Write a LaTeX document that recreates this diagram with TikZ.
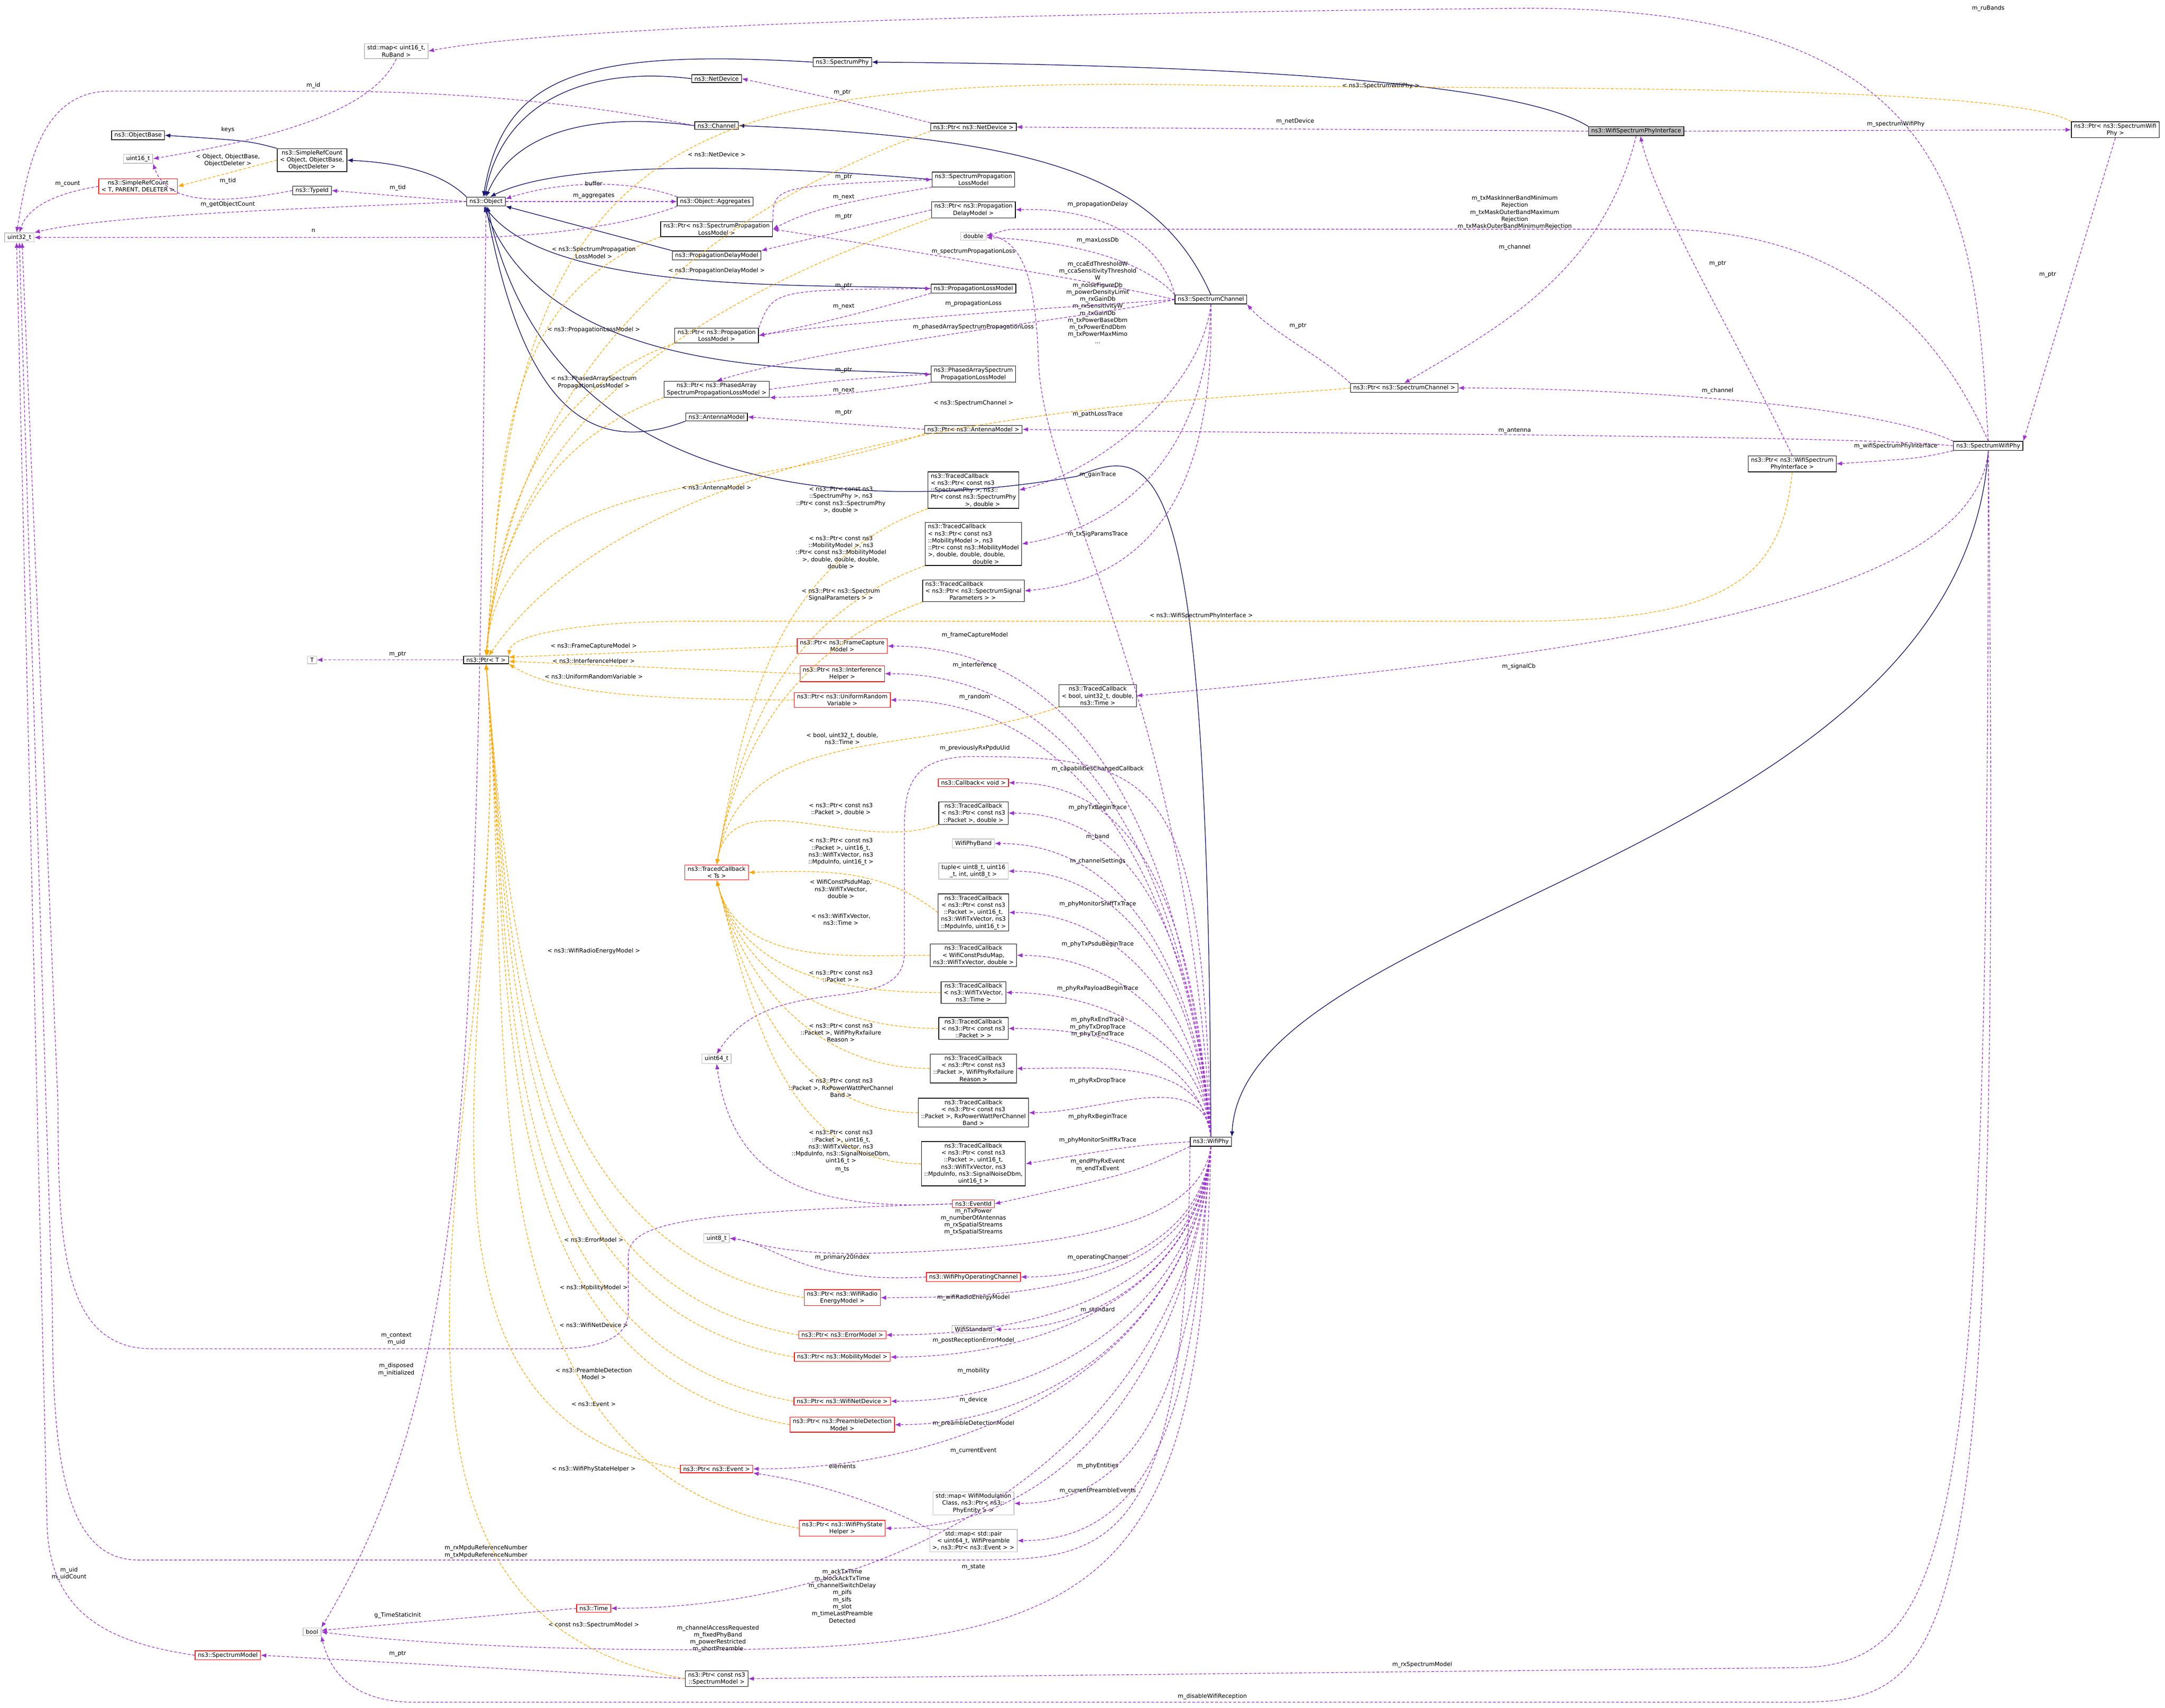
\documentclass[tikz,border=0pt]{standalone}
\usepackage{fontspec}
\setmainfont{DejaVu Sans}
\usetikzlibrary{arrows.meta}
\definecolor{inhc}{HTML}{191970}
\definecolor{usec}{HTML}{9A32CD}
\definecolor{tplc}{HTML}{FFA500}
\definecolor{grayb}{HTML}{BFBFBF}
\newcommand\ff{\fontsize{4.2}{5.1}\selectfont}
\tikzset{
 box/.style={draw=black,fill=white,inner xsep=2pt,inner ysep=1.2pt,align=center,font=\ff,line width=0.45pt},
 rbox/.style={box,draw=red},
 gbox/.style={box,draw=grayb},
 lab/.style={align=center,font=\ff,inner sep=0.5pt},
 inh/.style={draw=inhc,line width=0.5pt,-{Latex[length=4pt,width=3.2pt]}},
 use/.style={draw=usec,line width=0.45pt,dash pattern=on 2pt off 1.3pt,-{Latex[length=4pt,width=3.2pt]}},
 tpl/.style={draw=tplc,line width=0.45pt,dash pattern=on 2pt off 1.3pt,-{Latex[length=4pt,width=3.2pt]}},
}
\begin{document}
\begin{tikzpicture}[x=1pt,y=-1pt]
\useasboundingbox[fill=white] (0,0) rectangle (1568,1237);
% nodes
\node[gbox] (map16) at (287,37) {std::map{<} uint16\_t,\\RuBand >};
\node[box] (ObjectBase) at (100,98) {ns3::ObjectBase};
\node[gbox] (u16) at (100,115) {uint16\_t};
\node[box] (SRC2) at (226,116) {ns3::SimpleRefCount\\{<} Object, ObjectBase,\\ObjectDeleter >};
\node[rbox] (SRCT) at (100,135) {ns3::SimpleRefCount\\{<} T, PARENT, DELETER >};
\node[box] (TypeId) at (226,138) {ns3::TypeId};
\node[gbox] (u32) at (14,172) {uint32\_t};
\node[box] (Object) at (352,146) {ns3::Object};
\node[box] (Aggr) at (518,146) {ns3::Object::Aggregates};
\node[box] (SpPhy) at (610,45) {ns3::SpectrumPhy};
\node[box] (NetDev) at (519,57) {ns3::NetDevice};
\node[box] (Channel) at (519,91) {ns3::Channel};
\node[box] (PNetDev) at (705,92) {ns3::Ptr{<} ns3::NetDevice >};
\node[box] (SPLM) at (705,130) {ns3::SpectrumPropagation\\LossModel};
\node[box] (PSPLM) at (519,166) {ns3::Ptr{<} ns3::SpectrumPropagation\\LossModel >};
\node[box] (PPDM) at (705,152) {ns3::Ptr{<} ns3::Propagation\\DelayModel >};
\node[box] (PDM) at (519,185) {ns3::PropagationDelayModel};
\node[gbox] (dbl) at (705,171) {double};
\node[box] (PLM) at (705,209) {ns3::PropagationLossModel};
\node[box] (PPLM) at (519,243) {ns3::Ptr{<} ns3::Propagation\\LossModel >};
\node[box] (SpCh) at (877,217) {ns3::SpectrumChannel};
\node[box] (PAM) at (705,271) {ns3::PhasedArraySpectrum\\PropagationLossModel};
\node[box] (PPAM) at (519,282) {ns3::Ptr{<} ns3::PhasedArray\\SpectrumPropagationLossModel >};
\node[box] (Ant) at (519,302) {ns3::AntennaModel};
\node[box] (PAnt) at (705,311) {ns3::Ptr{<} ns3::AntennaModel >};
\node[box,fill=grayb] (WSPI) at (1185,95) {ns3::WifiSpectrumPhyInterface};
\node[box] (PSWP) at (1532,94) {ns3::Ptr{<} ns3::SpectrumWifi\\Phy >};
\node[box] (PSpCh) at (1017,281) {ns3::Ptr{<} ns3::SpectrumChannel >};
\node[box] (SWP) at (1440,323) {ns3::SpectrumWifiPhy};
\node[box] (PWSPI) at (1298,336) {ns3::Ptr{<} ns3::WifiSpectrum\\PhyInterface >};
\node[box,align=left] (TC1) at (705,355) {ns3::TracedCallback\\{<} ns3::Ptr{<} const ns3\\::SpectrumPhy >, ns3::\\Ptr{<} const ns3::SpectrumPhy\\\hphantom{xxxxxxxxxx}>, double >};
\node[box,align=left] (TC2) at (705,394) {ns3::TracedCallback\\{<} ns3::Ptr{<} const ns3\\::MobilityModel >, ns3\\::Ptr{<} const ns3::MobilityModel\\ >, double, double, double,\\\hphantom{xxxxxxxxxxxxx}double >};
\node[box,align=left] (TC3) at (705,428) {ns3::TracedCallback\\{<} ns3::Ptr{<} ns3::SpectrumSignal\\\hphantom{xxxxxxx}Parameters > >};
\node[gbox] (T) at (226,478) {T};
\node[box] (PT) at (352,478) {ns3::Ptr{<} T >};
\node[rbox] (PFC) at (610,468) {ns3::Ptr{<} ns3::FrameCapture\\Model >};
\node[rbox] (PIH) at (610,488) {ns3::Ptr{<} ns3::Interference\\Helper >};
\node[rbox] (PURV) at (610,507) {ns3::Ptr{<} ns3::UniformRandom\\Variable >};
\node[box] (TCb) at (795,504) {ns3::TracedCallback\\{<} bool, uint32\_t, double,\\ns3::Time >};
\node[rbox] (CbV) at (705,567) {ns3::Callback{<} void >};
\node[box] (TC4) at (705,589) {ns3::TracedCallback\\{<} ns3::Ptr{<} const ns3\\::Packet >, double >};
\node[gbox] (WPB) at (705,611) {WifiPhyBand};
\node[gbox] (tup) at (705,631) {tuple{<} uint8\_t, uint16\\\_t, int, uint8\_t >};
\node[rbox] (TCTs) at (519,632) {ns3::TracedCallback\\{<} Ts >};
\node[box] (TC5) at (705,661) {ns3::TracedCallback\\{<} ns3::Ptr{<} const ns3\\::Packet >, uint16\_t,\\ns3::WifiTxVector, ns3\\::MpduInfo, uint16\_t >};
\node[box] (TC6) at (705,692) {ns3::TracedCallback\\{<} WifiConstPsduMap,\\ns3::WifiTxVector, double >};
\node[box] (TC7) at (705,719) {ns3::TracedCallback\\{<} ns3::WifiTxVector,\\ns3::Time >};
\node[box] (TC8) at (705,745) {ns3::TracedCallback\\{<} ns3::Ptr{<} const ns3\\::Packet > >};
\node[box] (TC9) at (705,774) {ns3::TracedCallback\\{<} ns3::Ptr{<} const ns3\\::Packet >, WifiPhyRxfailure\\Reason >};
\node[gbox] (u64) at (519,767) {uint64\_t};
\node[box] (TC10) at (705,806) {ns3::TracedCallback\\{<} ns3::Ptr{<} const ns3\\::Packet >, RxPowerWattPerChannel\\Band >};
\node[box] (TC11) at (705,843) {ns3::TracedCallback\\{<} ns3::Ptr{<} const ns3\\::Packet >, uint16\_t,\\ns3::WifiTxVector, ns3\\::MpduInfo, ns3::SignalNoiseDbm,\\uint16\_t >};
\node[box] (WP) at (877,827) {ns3::WifiPhy};
\node[rbox] (EvId) at (705,872) {ns3::EventId};
\node[gbox] (u8) at (519,897) {uint8\_t};
\node[rbox] (WPOC) at (705,925) {ns3::WifiPhyOperatingChannel};
\node[rbox] (PWREM) at (610,940) {ns3::Ptr{<} ns3::WifiRadio\\EnergyModel >};
\node[gbox] (WStd) at (705,963) {WifiStandard};
\node[rbox] (PErr) at (610,967) {ns3::Ptr{<} ns3::ErrorModel >};
\node[rbox] (PMob) at (610,983) {ns3::Ptr{<} ns3::MobilityModel >};
\node[rbox] (PWND) at (610,1015) {ns3::Ptr{<} ns3::WifiNetDevice >};
\node[rbox] (PPre) at (610,1032) {ns3::Ptr{<} ns3::PreambleDetection\\Model >};
\node[rbox] (PEv) at (519,1064) {ns3::Ptr{<} ns3::Event >};
\node[gbox] (mapMod) at (705,1089) {std::map{<} WifiModulation\\Class, ns3::Ptr{<} ns3::\\PhyEntity > >};
\node[rbox] (PWPSH) at (610,1107) {ns3::Ptr{<} ns3::WifiPhyState\\Helper >};
\node[gbox] (mapPair) at (705,1116) {std::map{<} std::pair\\{<} uint64\_t, WifiPreamble\\ >, ns3::Ptr{<} ns3::Event > >};
\node[rbox] (Time) at (430,1165) {ns3::Time};
\node[gbox] (bool) at (226,1182) {bool};
\node[rbox] (SpM) at (165,1199) {ns3::SpectrumModel};
\node[box] (PSpM) at (519,1216) {ns3::Ptr{<} const ns3\\::SpectrumModel >};

% inheritance
\draw[inh] (SRC2.north west) .. controls (180,102) .. (ObjectBase.east);
\draw[inh] (Object.north west) .. controls (320,125) and (290,118) .. (SRC2.east);
\draw[inh] (SpPhy.west) .. controls (420,35) and (365,55) .. ([xshift=-2pt]Object.north);
\draw[inh] (NetDev.west) .. controls (430,48) and (365,70) .. ([xshift=-1pt]Object.north);
\draw[inh] (Channel.west) .. controls (420,80) and (370,100) .. (Object.north);
\draw[inh] (SPLM.west) .. controls (560,120) and (410,115) .. ([xshift=3pt]Object.north);
\draw[inh] (PDM.north west) -- (Object.south east);
\draw[inh] (PLM.west) .. controls (600,205) and (400,215) .. ([xshift=-1pt]Object.south);
\draw[inh] (PAM.west) .. controls (600,265) and (400,280) .. ([xshift=-1.5pt]Object.south);
\draw[inh] (Ant.south west) .. controls (430,330) and (380,300) .. (Object.south);
\draw[inh] (WP.north) .. controls (875,330) and (840,320) .. (780,345) .. controls (640,370) and (400,370) .. ([xshift=1pt]Object.south);
\draw[inh] (WSPI.north west) .. controls (1100,60) and (900,47) .. (SpPhy.east);
\draw[inh] (SpCh.north) .. controls (840,130) and (760,100) .. (Channel.east);
\draw[inh] (SWP.south) .. controls (1420,620) and (900,660) .. (WP.north east);

% use edges
\draw[use] (SWP.north) .. controls (1430,150) and (1420,4) .. (1100,6) .. controls (700,10) and (400,20) .. (map16.east);
\node[lab] at (1440,6) {m\_ruBands};
\draw[use] (map16.south) .. controls (270,80) and (200,100) .. (u16.east);
\node[lab] at (165,94) {keys};
\draw[use] (Channel.west) .. controls (400,70) and (300,66) .. (230,66) -- (80,66) .. controls (30,66) and (20,120) .. ([xshift=-2pt]u32.north);
\node[lab] at (227,62) {m\_id};
\draw[use] (SRCT.west) .. controls (40,140) and (20,150) .. (u32.north);
\node[lab] at (49,133) {m\_count};
\draw[use] (TypeId.west) .. controls (150,150) and (120,145) .. (u16.south east);
\node[lab] at (165,131) {m\_tid};
\draw[use] (Object.west) -- (TypeId.east);
\node[lab] at (288,136) {m\_tid};
\draw[use] (Object.west) .. controls (250,150) and (80,155) .. (u32.north east);
\node[lab] at (165,148) {m\_getObjectCount};
\draw[use] (Object.east) -- (Aggr.west);
\node[lab] at (430,142) {m\_aggregates};
\draw[use] (Aggr.north west) .. controls (450,128) and (400,133) .. ([yshift=2pt]Object.east);
\node[lab] at (430,133) {buffer};
\draw[use] (Aggr.south west) .. controls (450,165) and (380,172) .. (340,172) -- (u32.east);
\node[lab] at (227,167) {n};
\draw[use] (PNetDev.north west) .. controls (620,75) .. (NetDev.east);
\node[lab] at (610,67) {m\_ptr};
\draw[use] (WSPI.west) -- (PNetDev.east);
\node[lab] at (938,88) {m\_netDevice};
\draw[use] (WSPI.east) -- (PSWP.west);
\node[lab] at (1373,90) {m\_spectrumWifiPhy};
\draw[use] (PSWP.south) -- (SWP.north east);
\node[lab] at (1483,199) {m\_ptr};
\draw[use] (WSPI.south) .. controls (1160,200) and (1080,240) .. (PSpCh.north);
\node[lab] at (1097,179) {m\_channel};
\draw[use] (PWSPI.north) .. controls (1260,250) and (1200,150) .. ([xshift=3pt]WSPI.south);
\node[lab] at (1244,191) {m\_ptr};
\draw[use] (SWP.north) .. controls (1400,230) and (1330,166) .. (1200,166) -- (740,166) .. controls (730,166) .. (dbl.east);
\node[lab] at (1097,154) {m\_txMaskInnerBandMinimum\\Rejection\\m\_txMaskOuterBandMaximum\\Rejection\\m\_txMaskOuterBandMinimumRejection};
\draw[use] (SWP.north west) .. controls (1350,290) and (1150,281) .. (PSpCh.east);
\node[lab] at (1244,283) {m\_channel};
\draw[use] (SWP.west) .. controls (1350,315) and (900,314) .. (PAnt.east);
\node[lab] at (1097,312) {m\_antenna};
\draw[use] (SWP.south west) .. controls (1390,332) .. (PWSPI.east);
\node[lab] at (1373,323) {m\_wifiSpectrumPhyInterface};
\draw[use] (SWP.south) .. controls (1430,430) and (1200,470) .. (TCb.east);
\node[lab] at (1100,483) {m\_signalCb};
\draw[use] (SWP.south) .. controls (1440,1100) and (1420,1208) .. (1300,1208) -- (PSpM.east);
\node[lab] at (1030,1206) {m\_rxSpectrumModel};
\draw[use] (SWP.south) .. controls (1450,1200) and (1420,1233) .. (1300,1233) -- (300,1233) .. controls (260,1233) and (240,1215) .. (bool.south east);
\node[lab] at (878,1229) {m\_disableWifiReception};
\draw[use] (PSpCh.north west) .. controls (960,260) and (920,240) .. (SpCh.south east);
\node[lab] at (940,236) {m\_ptr};
\draw[use] (SpCh.north west) .. controls (840,170) and (790,150) .. (PPDM.east);
\node[lab] at (795,148) {m\_propagationDelay};
\draw[use] (SpCh.north west) .. controls (830,190) and (780,175) .. ([yshift=-1pt]dbl.east);
\node[lab] at (795,174) {m\_maxLossDb};
\draw[use] (SpCh.west) .. controls (800,205) and (650,180) .. (PSPLM.east);
\node[lab] at (705,182) {m\_spectrumPropagationLoss};
\draw[use] (WP.north) .. controls (860,500) and (755,360) .. (752,260) .. controls (750,200) and (740,175) .. ([yshift=1pt]dbl.east);
\node[lab] at (795,219) {m\_ccaEdThresholdW\\m\_ccaSensitivityThreshold\\W\\m\_noiseFigureDb\\m\_powerDensityLimit\\m\_rxGainDb\\m\_rxSensitivityW\\m\_txGainDb\\m\_txPowerBaseDbm\\m\_txPowerEndDbm\\m\_txPowerMaxMimo\\...};
\draw[use] (SpCh.west) .. controls (780,222) and (620,232) .. (PPLM.east);
\node[lab] at (705,220) {m\_propagationLoss};
\draw[use] (SpCh.west) .. controls (790,230) and (600,250) .. (PPAM.north);
\node[lab] at (705,237) {m\_phasedArraySpectrumPropagationLoss};
\draw[use] (SpCh.south) .. controls (870,280) and (800,340) .. (TC1.east);
\node[lab] at (795,300) {m\_pathLossTrace};
\draw[use] (SpCh.south) .. controls (875,320) and (820,380) .. (TC2.east);
\node[lab] at (795,344) {m\_gainTrace};
\draw[use] (SpCh.south) .. controls (880,360) and (830,420) .. (TC3.east);
\node[lab] at (795,387) {m\_txSigParamsTrace};
\draw[use] (PSPLM.north east) .. controls (560,135) .. (SPLM.west);
\node[lab] at (611,128) {m\_ptr};
\draw[use] (SPLM.south west) .. controls (620,145) and (590,150) .. (PSPLM.east);
\node[lab] at (611,143) {m\_next};
\draw[use] (PPDM.west) .. controls (620,165) .. (PDM.north east);
\node[lab] at (611,157) {m\_ptr};
\draw[use] (PPLM.north east) .. controls (560,210) .. (PLM.west);
\node[lab] at (611,207) {m\_ptr};
\draw[use] (PLM.south west) .. controls (620,228) and (590,235) .. (PPLM.east);
\node[lab] at (611,222) {m\_next};
\draw[use] (PPAM.east) .. controls (610,275) .. (PAM.west);
\node[lab] at (611,268) {m\_ptr};
\draw[use] (PAM.south west) .. controls (620,285) and (600,287) .. (PPAM.south east);
\node[lab] at (611,283) {m\_next};
\draw[use] (PAnt.west) -- (Ant.east);
\node[lab] at (611,299) {m\_ptr};
\draw[use] (PT.west) -- (T.east);
\node[lab] at (288,474) {m\_ptr};

% WifiPhy fan
\foreach \t/\l/\lx/\ly in {PFC/{m\_frameCaptureModel}/706/460, PIH/{m\_interference}/706/482, PURV/{m\_random}/706/505, CbV/{m\_capabilitiesChangedCallback}/795/557, TC4/{m\_phyTxBeginTrace}/795/585, WPB/{m\_band}/795/606, tup/{m\_channelSettings}/795/624, TC5/{m\_phyMonitorSniffTxTrace}/795/655, TC6/{m\_phyTxPsduBeginTrace}/795/684, TC7/{m\_phyRxPayloadBeginTrace}/795/716, TC9/{m\_phyRxDropTrace}/795/783, TC10/{m\_phyRxBeginTrace}/795/809}
 {\draw[use] (WP.north) to[out=95,in=0] (\t.east); \node[lab] at (\lx,\ly) {\l};}
\draw[use] (WP.north) to[out=100,in=0] (TC8.east);
\node[lab] at (795,744) {m\_phyRxEndTrace\\m\_phyTxDropTrace\\m\_phyTxEndTrace};
\draw[use] (WP.west) .. controls (820,830) .. (TC11.east);
\node[lab] at (795,826) {m\_phyMonitorSniffRxTrace};
\draw[use] (WP.south west) .. controls (820,850) .. (EvId.east);
\node[lab] at (795,844) {m\_endPhyRxEvent\\m\_endTxEvent};
\draw[use] (WP.north) .. controls (870,560) and (840,548) .. (700,548) .. controls (660,550) and (655,570) .. (655,600) -- (655,690) .. controls (655,740) and (560,700) .. (u64.north);
\node[lab] at (706,542) {m\_previouslyRxPpduUid};
\draw[use] (EvId.west) .. controls (580,878) and (530,850) .. (u64.south);
\node[lab] at (610,847) {m\_ts};
\draw[use] (EvId.west) .. controls (500,878) and (455,885) .. (455,910) -- (455,950) .. controls (455,975) and (420,977) .. (400,977) -- (110,977) .. controls (45,977) and (42,900) .. (42,800) -- ([xshift=2pt]u32.south);
\node[lab] at (287,970) {m\_context\\m\_uid};
\foreach \t/\l/\lx/\ly in {WPOC/{m\_operatingChannel}/795/911, PWREM/{m\_wifiRadioEnergyModel}/705/940, WStd/{m\_standard}/795/949, PErr/{m\_postReceptionErrorModel}/705/971, PMob/{m\_mobility}/705/993, PWND/{m\_device}/705/1014, PPre/{m\_preambleDetectionModel}/705/1031, PEv/{m\_currentEvent}/705/1051, mapMod/{m\_phyEntities}/795/1062, mapPair/{m\_currentPreambleEvents}/795/1080, PWPSH/{m\_state}/705/1135, Time/{m\_ackTxTime\\m\_blockAckTxTime\\m\_channelSwitchDelay\\m\_pifs\\m\_sifs\\m\_slot\\m\_timeLastPreamble\\Detected}/610/1156}
 {\draw[use] (WP.south) to[out=-95,in=0] (\t.east); \node[lab] at (\lx,\ly) {\l};}
\draw[use] (WP.south) .. controls (870,880) and (800,905) .. (620,908) .. controls (560,908) and (540,898) .. (u8.east);
\node[lab] at (705,885) {m\_nTxPower\\m\_numberOfAntennas\\m\_rxSpatialStreams\\m\_txSpatialStreams};
\draw[use] (WPOC.west) .. controls (580,930) and (560,900) .. (u8.east);
\node[lab] at (610,911) {m\_primary20Index};
\draw[use] (mapPair.north west) .. controls (650,1095) and (600,1075) .. (PEv.south east);
\node[lab] at (610,1062) {elements};
\draw[use] (WP.south) .. controls (870,1150) and (800,1195) .. (500,1195) .. controls (350,1195) and (260,1186) .. (bool.east);
\node[lab] at (520,1187) {m\_channelAccessRequested\\m\_fixedPhyBand\\m\_powerRestricted\\m\_shortPreamble};
\draw[use] (WP.south west) .. controls (860,1130) and (800,1130) .. (700,1130) -- (100,1130) .. controls (45,1130) and (38,1050) .. (38,950) -- (u32.south);
\node[lab] at (352,1124) {m\_rxMpduReferenceNumber\\m\_txMpduReferenceNumber};
\draw[use] (SpM.west) .. controls (80,1190) and (34,1170) .. (34,1100) -- ([xshift=-2pt]u32.south);
\node[lab] at (50,1140) {m\_uid\\m\_uidCount};
\draw[use] (Object.south) .. controls (345,800) and (340,1000) .. (bool.north east);
\node[lab] at (287,992) {m\_disposed\\m\_initialized};
\draw[use] (Time.west) -- ([yshift=1pt]bool.east);
\node[lab] at (288,1170) {g\_TimeStaticInit};
\draw[use] (PSpM.west) -- (SpM.east);
\node[lab] at (288,1198) {m\_ptr};

% template edges
\draw[tpl] (SRC2.west) -- (SRCT.east);
\node[lab] at (165,116) {{<} Object, ObjectBase,\\ObjectDeleter >};
\foreach \s/\l/\lx/\ly in {PNetDev/{{<} ns3::NetDevice >}/519/112, PSPLM/{{<} ns3::SpectrumPropagation\\LossModel >}/430/183, PPDM/{{<} ns3::PropagationDelayModel >}/519/196, PPLM/{{<} ns3::PropagationLossModel >}/430/239, PPAM/{{<} ns3::PhasedArraySpectrum\\PropagationLossModel >}/430/277, PAnt/{{<} ns3::AntennaModel >}/519/353}
 {\draw[tpl] (\s.south west) to[out=200,in=85] (PT.north); \node[lab] at (\lx,\ly) {\l};}
\draw[tpl] (PSWP.north west) .. controls (1450,60) and (1100,65) .. (900,62) .. controls (500,55) and (370,80) .. ([xshift=1pt]PT.north);
\node[lab] at (1000,62) {{<} ns3::SpectrumWifiPhy >};
\draw[tpl] (PSpCh.west) .. controls (900,290) and (480,292) .. ([xshift=2pt]PT.north);
\node[lab] at (705,292) {{<} ns3::SpectrumChannel >};
\draw[tpl] (PWSPI.south) .. controls (1290,420) and (1250,450) .. (1100,450) -- (500,450) .. controls (420,450) and (370,460) .. (PT.north east);
\node[lab] at (870,446) {{<} ns3::WifiSpectrumPhyInterface >};
\draw[tpl] (PFC.west) -- ([yshift=2pt]PT.east);
\node[lab] at (430,468) {{<} ns3::FrameCaptureModel >};
\draw[tpl] (PIH.west) -- ([yshift=-1pt]PT.east);
\node[lab] at (430,479) {{<} ns3::InterferenceHelper >};
\draw[tpl] (PURV.west) .. controls (450,507) and (400,500) .. (PT.south east);
\node[lab] at (430,490) {{<} ns3::UniformRandomVariable >};
\foreach \s/\l/\lx/\ly in {PWREM/{{<} ns3::WifiRadioEnergyModel >}/430/689, PErr/{{<} ns3::ErrorModel >}/430/898, PMob/{{<} ns3::MobilityModel >}/430/933, PWND/{{<} ns3::WifiNetDevice >}/430/960, PPre/{{<} ns3::PreambleDetection\\Model >}/430/995, PEv/{{<} ns3::Event >}/430/1017, PWPSH/{{<} ns3::WifiPhyStateHelper >}/430/1064, PSpM/{{<} const ns3::SpectrumModel >}/430/1177}
 {\draw[tpl] (\s.west) to[out=170,in=-85] (PT.south); \node[lab] at (\lx,\ly) {\l};}
\foreach \s/\l/\lx/\ly in {TC1/{{<} ns3::Ptr{<} const ns3\\::SpectrumPhy >, ns3\\::Ptr{<} const ns3::SpectrumPhy\\>, double >}/609/362, TC2/{{<} ns3::Ptr{<} const ns3\\::MobilityModel >, ns3\\::Ptr{<} const ns3::MobilityModel\\>, double, double, double,\\double >}/609/400, TC3/{{<} ns3::Ptr{<} ns3::Spectrum\\SignalParameters > >}/609/431, TCb/{{<} bool, uint32\_t, double,\\ns3::Time >}/610/535, TC4/{{<} ns3::Ptr{<} const ns3\\::Packet >, double >}/609/586}
 {\draw[tpl] (\s.south west) to[out=200,in=80] (TCTs.north); \node[lab] at (\lx,\ly) {\l};}
\draw[tpl] (TC5.west) .. controls (640,630) and (600,630) .. (TCTs.east);
\node[lab] at (609,617) {{<} ns3::Ptr{<} const ns3\\::Packet >, uint16\_t,\\ns3::WifiTxVector, ns3\\::MpduInfo, uint16\_t >};
\foreach \s/\l/\lx/\ly in {TC6/{{<} WifiConstPsduMap,\\ns3::WifiTxVector,\\double >}/609/644, TC7/{{<} ns3::WifiTxVector,\\ns3::Time >}/609/666, TC8/{{<} ns3::Ptr{<} const ns3\\::Packet > >}/609/707, TC9/{{<} ns3::Ptr{<} const ns3\\::Packet >, WifiPhyRxfailure\\Reason >}/609/748, TC10/{{<} ns3::Ptr{<} const ns3\\::Packet >, RxPowerWattPerChannel\\Band >}/609/788, TC11/{{<} ns3::Ptr{<} const ns3\\::Packet >, uint16\_t,\\ns3::WifiTxVector, ns3\\::MpduInfo, ns3::SignalNoiseDbm,\\uint16\_t >}/609/831}
 {\draw[tpl] (\s.west) to[out=180,in=-75] (TCTs.south); \node[lab] at (\lx,\ly) {\l};}
\end{tikzpicture}
\end{document}
